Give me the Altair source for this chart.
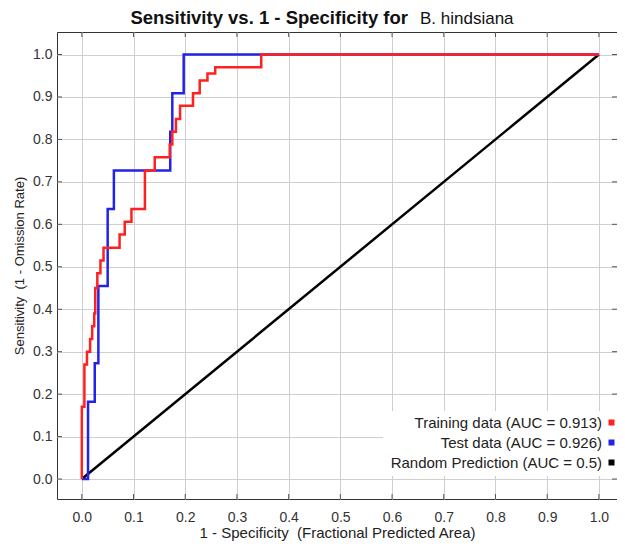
import altair as alt
import pandas as pd

# ---- data ----
train_x = [0.000, 0.000, 0.005, 0.005, 0.010, 0.010, 0.016, 0.016, 0.020, 0.020,
           0.024, 0.024, 0.026, 0.026, 0.030, 0.030, 0.036, 0.036, 0.042, 0.042,
           0.073, 0.073, 0.083, 0.083, 0.096, 0.096, 0.122, 0.122, 0.141, 0.141,
           0.170, 0.170, 0.175, 0.175, 0.182, 0.182, 0.190, 0.190, 0.215, 0.215,
           0.228, 0.228, 0.243, 0.243, 0.258, 0.258, 0.347, 0.347, 1.000]
train_y = [0.000, 0.170, 0.170, 0.270, 0.270, 0.300, 0.300, 0.330, 0.330, 0.360,
           0.360, 0.390, 0.390, 0.450, 0.450, 0.485, 0.485, 0.515, 0.515, 0.545,
           0.545, 0.576, 0.576, 0.606, 0.606, 0.636, 0.636, 0.727, 0.727, 0.758,
           0.758, 0.788, 0.788, 0.818, 0.818, 0.848, 0.848, 0.879, 0.879, 0.909,
           0.909, 0.939, 0.939, 0.955, 0.955, 0.970, 0.970, 1.000, 1.000]

test_x = [0.000, 0.012, 0.012, 0.025, 0.025, 0.032, 0.032, 0.050, 0.050, 0.062,
          0.062, 0.171, 0.171, 0.175, 0.175, 0.197, 0.197, 1.000]
test_y = [0.000, 0.000, 0.182, 0.182, 0.273, 0.273, 0.455, 0.455, 0.636, 0.636,
          0.727, 0.727, 0.818, 0.818, 0.909, 0.909, 1.000, 1.000]

rand_x = [0.0, 1.0]
rand_y = [0.0, 1.0]

series_names = ["Training data (AUC = 0.913)",
                "Test data (AUC = 0.926)",
                "Random Prediction (AUC = 0.5)"]
series_colors = ["#ff2020", "#2323e6", "#000000"]

tick_vals = [0.0, 0.1, 0.2, 0.3, 0.4, 0.5, 0.6, 0.7, 0.8, 0.9, 1.0]
title_main = "Sensitivity vs. 1 - Specificity for"
title_species = "B. hindsiana"
x_title = "1 - Specificity\u00a0 (Fractional Predicted Area)"
y_title = "Sensitivity\u00a0 (1 - Omission Rate)"

# ---- build table ----
rows = []
for name, xs, ys in zip(series_names, [train_x, test_x, rand_x], [train_y, test_y, rand_y]):
    for i, (a, b) in enumerate(zip(xs, ys)):
        rows.append({"series": name, "x": a, "y": b, "i": i})
df = pd.DataFrame(rows)
ticks_df = pd.DataFrame({"v": tick_vals})

W, H = 560, 467
xscale = alt.Scale(domain=[-0.048, 1.035], nice=False, zero=False)
yscale = alt.Scale(domain=[-0.047, 1.053], nice=False, zero=False)
cscale = alt.Scale(domain=series_names, range=series_colors)

legend = alt.Legend(
    title=None, orient="none", legendX=326, legendY=379,
    labelAlign="right", labelOffset={"expr": "-17"}, symbolOffset=217,
    fillColor="white", padding=4, rowPadding=1,
    labelFont="Liberation Sans", labelFontSize=15, labelColor="#222222",
    symbolType="square", symbolSize=4, symbolStrokeWidth=4, labelLimit=400,
)

base = alt.Chart(df)

def layer(name):
    return base.transform_filter(alt.datum.series == name).mark_line(
        strokeWidth=2.5, clip=True
    ).encode(
        x=alt.X("x:Q", scale=xscale,
                axis=alt.Axis(values=tick_vals, format=".1f", title=x_title)),
        y=alt.Y("y:Q", scale=yscale,
                axis=alt.Axis(values=tick_vals, format=".1f", title=y_title)),
        color=alt.Color("series:N", scale=cscale, legend=legend),
        order="i:Q",
    )

l_rand = layer(series_names[2])
l_test = layer(series_names[1])
l_train = layer(series_names[0])

# inward tick marks on the four frame sides
tk = alt.Chart(ticks_df)
tick_color = "#555555"
tb = tk.mark_rule(color=tick_color, strokeWidth=1).encode(
    x=alt.X("v:Q", scale=xscale), y=alt.value(H), y2=alt.value(H - 5))
tt = tk.mark_rule(color=tick_color, strokeWidth=1).encode(
    x=alt.X("v:Q", scale=xscale), y=alt.value(0), y2=alt.value(5))
tl = tk.mark_rule(color=tick_color, strokeWidth=1).encode(
    y=alt.Y("v:Q", scale=yscale), x=alt.value(0), x2=alt.value(5))
tr = tk.mark_rule(color=tick_color, strokeWidth=1).encode(
    y=alt.Y("v:Q", scale=yscale), x=alt.value(W), x2=alt.value(W - 5))

tdf = pd.DataFrame({"t": [title_main]})
sdf = pd.DataFrame({"t": [title_species]})
t1 = alt.Chart(tdf).mark_text(
    font="Liberation Sans", fontSize=18.5, fontWeight="bold", align="right",
    baseline="alphabetic", color="#111111"
).encode(text="t:N", x=alt.value(351), y=alt.value(-8))
t2 = alt.Chart(sdf).mark_text(
    font="Liberation Sans", fontSize=17, align="left",
    baseline="alphabetic", color="#111111"
).encode(text="t:N", x=alt.value(363), y=alt.value(-8))

chart = alt.layer(tb, tt, tl, tr, l_rand, l_test, l_train, t1, t2).properties(
    width=W, height=H,
    autosize=alt.AutoSizeParams(type="none"),
    padding={"left": 49, "top": 24, "right": 0, "bottom": 42},
).configure_view(
    stroke="#333333", strokeWidth=1
).configure_axis(
    domain=False, ticks=False, grid=True, gridColor="#cfcfcf", gridWidth=1,
    labelFont="Liberation Sans", labelFontSize=14, labelColor="#333333",
    titleFont="Liberation Sans", titleColor="#222222",
    titleFontWeight="normal",
).configure_axisX(
    labelPadding=11, titlePadding=1, titleFontSize=15
).configure_axisY(
    labelPadding=5, titlePadding=6, titleFontSize=13
)

chart.save("out.html", embed_options={"renderer": "svg", "actions": False})
